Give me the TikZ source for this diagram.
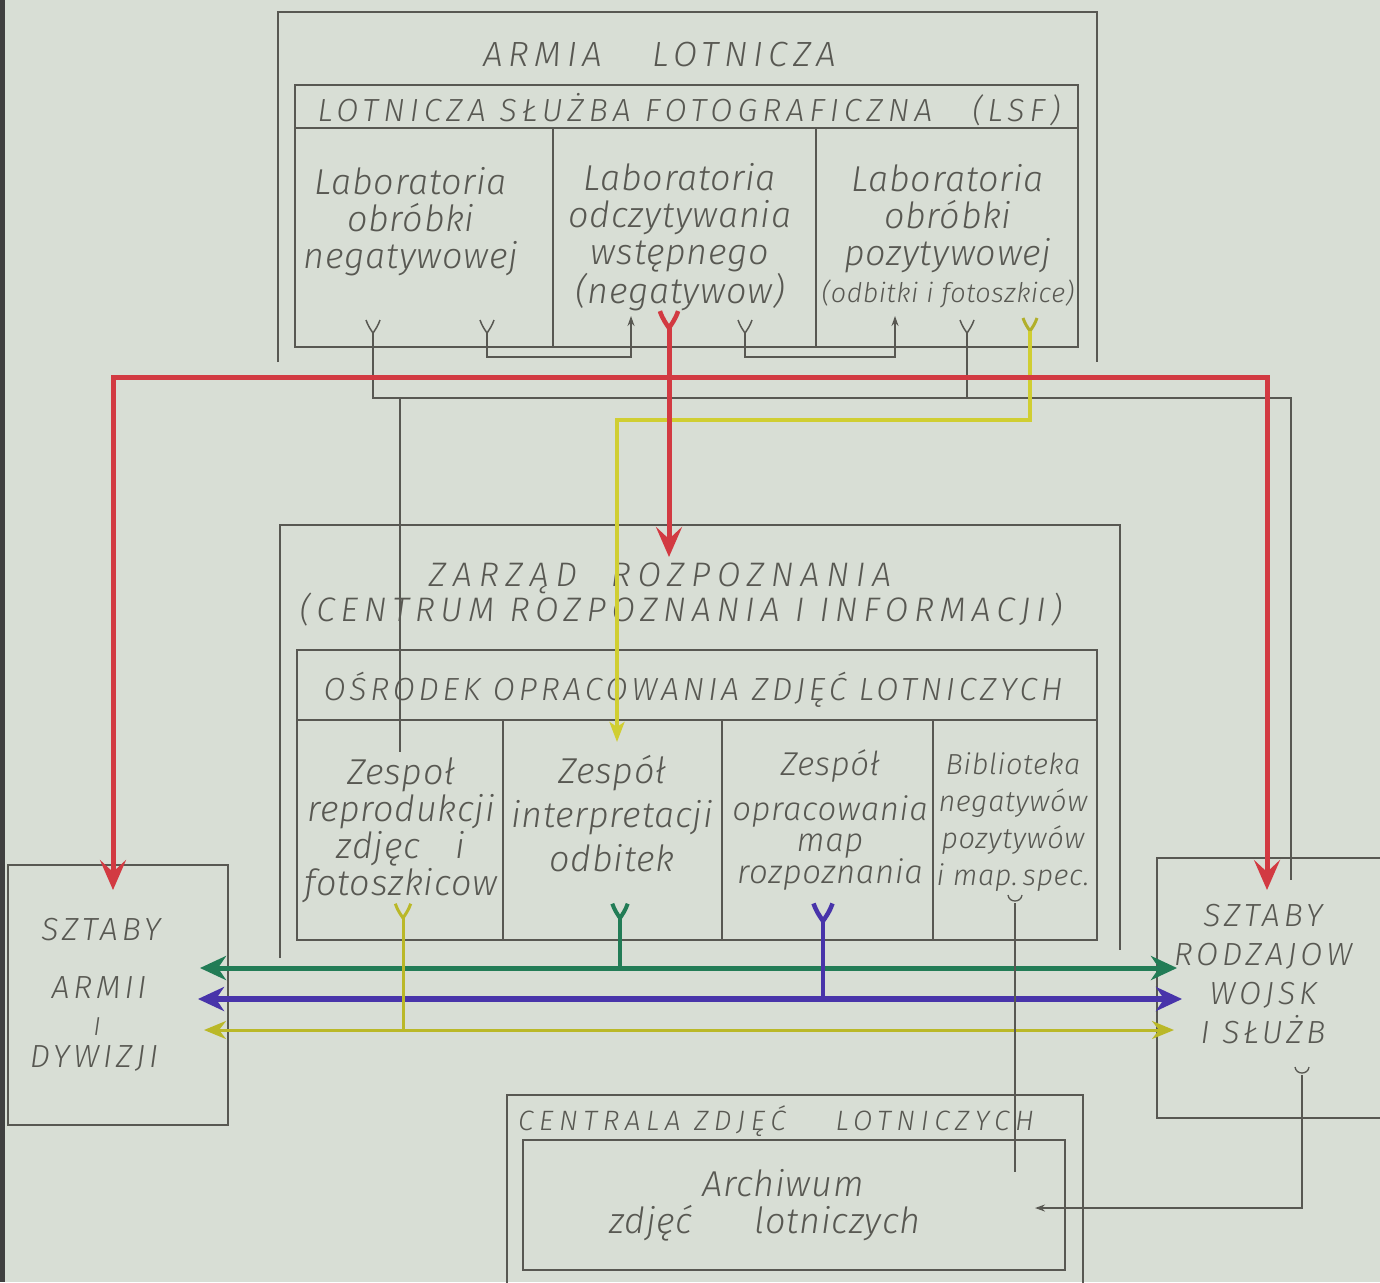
\documentclass[tikz,border=0pt]{standalone}
\usepackage{fontspec}
\setmainfont{Fira Sans Light Italic}
\usetikzlibrary{arrows.meta}
\definecolor{paper}{RGB}{216,222,213}
\definecolor{ink}{RGB}{88,88,82}
\definecolor{redink}{RGB}{210,58,66}
\definecolor{greenink}{RGB}{34,124,86}
\definecolor{blueink}{RGB}{72,52,170}
\definecolor{yellowink}{RGB}{208,206,50}
\definecolor{oliveink}{RGB}{186,184,40}

\begin{document}
\begin{tikzpicture}[x=1pt,y=-1pt,
  box/.style={draw=ink,line width=1.8pt,inner sep=0pt},
  lab/.style={text=ink,align=center,inner sep=0pt,font=\fontsize{36}{37}\selectfont\addfontfeatures{LetterSpace=2}},
  caps/.style={text=ink,align=center,inner sep=0pt,font=\fontsize{32}{37}\selectfont\addfontfeatures{LetterSpace=12}},
  wire/.style={draw=ink,line width=1.5pt},
  redwire/.style={draw=redink,line width=5pt},
  grayhead/.style={-{Stealth[length=10pt,width=7pt]}},
  redhead/.style={-{Stealth[length=30pt,width=26pt,inset=12pt]}},
  colhead/.style={{Stealth[length=26pt,width=24pt,inset=8pt]}-{Stealth[length=26pt,width=24pt,inset=8pt]}},
  yfork/.pic={\draw[pic actions] (-7,-13) .. controls (-5,-7) and (-2,-3) .. (0,0) .. controls (2,-3) and (5,-7) .. (7,-13);},
  ucup/.pic={\draw[pic actions] (-7,-8) .. controls (-6,0) and (6,0) .. (7,-8);}
  ]
\useasboundingbox (0,0) rectangle (1380,1282);
\fill[paper] (0,0) rectangle (1380,1282);
\fill[black!75] (0,0) rectangle (5,1282);

\draw[box] (278,362) |- (1097,12) -- (1097,362);
\node[caps,font=\fontsize{35}{37}\selectfont\addfontfeatures{LetterSpace=16}] (armiat) at (660,55) {ARMIA\hspace{50pt}LOTNICZA};
\node[box,minimum width=783pt,minimum height=262pt] (lsf) at (686.5,216) {};
\draw[box] (lsf.west |- 0,128) -- (lsf.east |- 0,128);
\draw[box] (553,128) -- (553,347);
\draw[box] (816,128) -- (816,347);
\node[caps,font=\fontsize{32}{37}\selectfont\addfontfeatures{LetterSpace=16}] (lsft) at (689,110) {LOTNICZA SŁUŻBA FOTOGRAFICZNA\hspace{40pt}(LSF)};
\node[lab] (lab1) at (411,222) {Laboratoria\\obróbki\\negatywowej};
\node[lab] (lab2) at (680,237) {Laboratoria\\odczytywania\\wstępnego\\(negatywow)};
\node[lab] (lab3) at (948,236) {Laboratoria\\obróbki\\pozytywowej\\{\fontsize{27}{37}\selectfont(odbitki i fotoszkice)}};

\draw[box] (280,958) |- (1120,525) -- (1120,950);
\node[caps,font=\fontsize{34}{37}\selectfont\addfontfeatures{LetterSpace=20}] (zart) at (660,578) {ZARZĄD\quad ROZPOZNANIA};
\node[caps,font=\fontsize{34}{37}\selectfont\addfontfeatures{LetterSpace=17}] (crit) at (681,610) {(CENTRUM ROZPOZNANIA I INFORMACJI)};
\node[box,minimum width=800pt,minimum height=290pt] (osr) at (697,795) {};
\draw[box] (osr.west |- 0,720) -- (osr.east |- 0,720);
\draw[box] (503,720) -- (503,940);
\draw[box] (722,720) -- (722,940);
\draw[box] (933,720) -- (933,940);
\node[caps] (osrt) at (693,690) {OŚRODEK OPRACOWANIA ZDJĘĆ LOTNICZYCH};
\node[lab] (zes1) at (401,830) {Zespoł\\reprodukcji\\zdjęc\quad i\\fotoszkicow};
\node[lab,font=\fontsize{36}{44}\selectfont\addfontfeatures{LetterSpace=2}] (zes2) at (612,814) {Zespół\\interpretacji\\odbitek};
\node[lab,font=\fontsize{33}{31}\selectfont\addfontfeatures{LetterSpace=2}] (zes3) at (830,820) {Zespół\\[12pt]opracowania\\map\\rozpoznania};
\node[lab,font=\fontsize{29}{37}\selectfont\addfontfeatures{LetterSpace=2}] (bib) at (1013,822) {Biblioteka\\negatywów\\pozytywów\\i map.\,spec.};

\node[box,minimum width=220pt,minimum height=260pt] (sza) at (118,995) {};
\node[caps] (sza1) at (101,930) {SZTABY};
\node[caps] (sza2) at (99,988) {ARMII};
\node[caps,font=\fontsize{26}{26}\selectfont] (sza3) at (97,1027) {I};
\node[caps] (sza4) at (94,1058) {DYWIZJI};
\node[box,minimum width=263pt,minimum height=260pt] (szr) at (1288.5,988) {};
\node[caps] (szrt) at (1263,974) {SZTABY\\[2pt]RODZAJOW\\[2pt]WOJSK\\[2pt]I SŁUŻB};

\node[box,minimum width=576pt,minimum height=220pt] (cza) at (795,1205) {};
\node[caps,anchor=west,font=\fontsize{28}{30}\selectfont\addfontfeatures{LetterSpace=20}] (czat) at (518,1121) {CENTRALA ZDJĘĆ\hspace{50pt}LOTNICZYCH};
\node[box,minimum width=542pt,minimum height=130pt] (arch) at (794,1205) {};
\node[lab] (archt) at (765,1205) {\hspace*{36pt}Archiwum\\zdjęć\hspace{62pt}lotniczych};

\coordinate (f1) at (373,333);
\coordinate (f2) at (487,333);
\coordinate (fr) at (669,328);
\coordinate (f3) at (745,333);
\coordinate (f4) at (967,333);
\coordinate (fy) at (1030,331);
\coordinate (a1) at (631,316);
\coordinate (a2) at (895,316);
\coordinate (low) at (0,357);
\coordinate (bus) at (0,398);
\coordinate (rbus) at (0,377);
\coordinate (ybus) at (0,420);
\coordinate (rb) at (1291,880);
\coordinate (t1) at (400,752);
\coordinate (zr) at (669,557);
\coordinate (la) at (113,890);
\coordinate (ra) at (1267,890);
\coordinate (ya) at (617,742);

\pic[draw=ink,line width=1.5pt] at (f1) {yfork};
\pic[draw=ink,line width=1.5pt] at (f2) {yfork};
\pic[draw=ink,line width=1.5pt] at (f3) {yfork};
\pic[draw=ink,line width=1.5pt] at (f4) {yfork};
\pic[draw=yellowink!85!black,line width=3pt] at (fy) {yfork};
\pic[draw=redink,line width=4.5pt,scale=1.3] at (fr) {yfork};

\draw[wire] (f1) -- (f1 |- bus) -| (rb);
\draw[wire] (f4) -- (f4 |- bus);
\draw[wire] (t1 |- bus) -- (t1);
\draw[wire,grayhead] (f2) |- (a1 |- low) -- (a1);
\draw[wire,grayhead] (f3) |- (a2 |- low) -- (a2);
\draw[draw=yellowink,line width=3.5pt,-{Stealth[length=20pt,width=15pt,inset=5pt]}] (fy) |- (ya |- ybus) -- (ya);
\draw[redwire,redhead] (fr) -- (zr);
\draw[redwire,{Stealth[length=30pt,width=26pt,inset=12pt]}-{Stealth[length=30pt,width=26pt,inset=12pt]}] (la) |- (ra |- rbus) -- (ra);

\coordinate (fo1) at (403,918);
\coordinate (fo2) at (620,918);
\coordinate (fo3) at (823,921);
\coordinate (fo4) at (1015,903);
\coordinate (gl) at (200,968);
\coordinate (gr) at (1177,968);
\coordinate (bl) at (198,999);
\coordinate (br) at (1182,999);
\coordinate (yl) at (204,1030);
\coordinate (yr) at (1174,1030);
\coordinate (ab) at (1015,1172);
\coordinate (fs) at (1302,1075);
\coordinate (ac) at (1035,1208);

\pic[draw=oliveink,line width=3pt,scale=1.1] at (fo1) {yfork};
\pic[draw=greenink,line width=4pt,scale=1.1] at (fo2) {yfork};
\pic[draw=blueink,line width=4.5pt,scale=1.35] at (fo3) {yfork};
\pic[draw=ink,line width=1.3pt] at (fo4) {ucup};
\pic[draw=ink,line width=1.3pt] at (fs) {ucup};

\draw[draw=greenink,line width=5pt,colhead] (gl) -- (gr);
\draw[draw=blueink,line width=6pt,colhead] (bl) -- (br);
\draw[draw=oliveink,line width=3pt,{Stealth[length=22pt,width=18pt,inset=7pt]}-{Stealth[length=22pt,width=18pt,inset=7pt]}] (yl) -- (yr);
\draw[draw=oliveink,line width=3pt] (fo1) -- (fo1 |- yl);
\draw[draw=greenink,line width=4pt] (fo2) -- (fo2 |- gl);
\draw[draw=blueink,line width=4.5pt] (fo3) -- (fo3 |- bl);
\draw[wire] (fo4) -- (ab);
\draw[wire,grayhead] (fs) |- (ac);
\end{tikzpicture}
\end{document}
